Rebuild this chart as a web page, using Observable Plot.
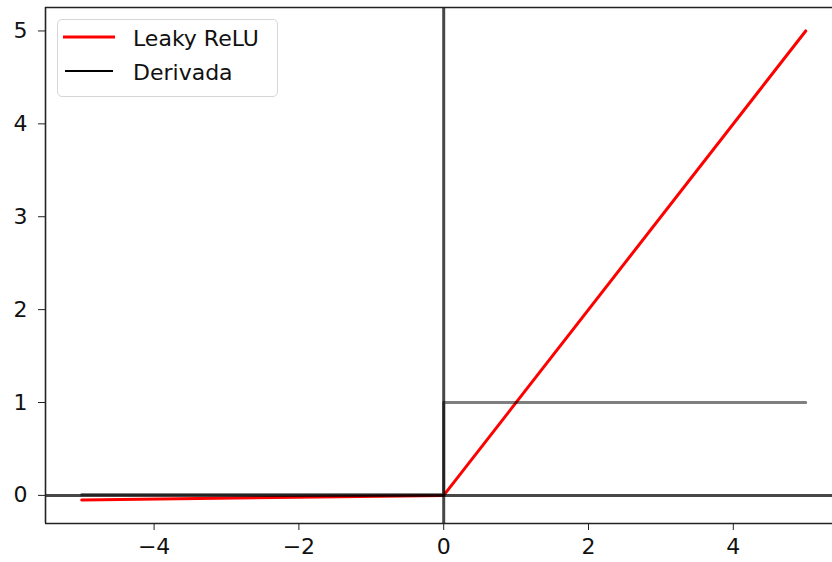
<!DOCTYPE html>
<html>
<head>
<meta charset="utf-8">
<script src="https://cdn.jsdelivr.net/npm/d3@7"></script>
<script src="https://cdn.jsdelivr.net/npm/@observablehq/plot@0.6"></script>
<style>
  html, body { margin: 0; padding: 0; background: white; overflow: hidden; }
  #wrap { position: relative; width: 832px; height: 562px; font-family: "DejaVu Sans", sans-serif; }
  #legend {
    position: absolute; left: 57px; top: 19px; width: 219px; height: 76px;
    border: 1.5px solid #d6d6d6; border-radius: 5px; background: rgba(255,255,255,0.85);
    box-sizing: content-box;
  }
  #legend .row { position: absolute; left: 0; height: 30px; display: flex; align-items: center; }
  #legend .row span { font-size: 22px; color: #111; margin-left: 15px; line-height: 1; position: relative; top: 2px; }
</style>
</head>
<body>
<div id="wrap"></div>
<script>
// Data
const seriesNames = ["Leaky ReLU", "Derivada"];
const reluX = [-5, 0, 5];
const reluY = [-0.05, 0, 5];
const derivX = [-5, 0, 0, 5];
const derivY = [0.01, 0.01, 1, 1];
const xTicks = [-4, -2, 0, 2, 4];
const yTicks = [0, 1, 2, 3, 4, 5];
const xDomain = [-5.5, 5.37];
const yDomain = [-0.3025, 5.2525];

const relu = reluX.map((x, i) => ({x, y: reluY[i]}));
const deriv = derivX.map((x, i) => ({x, y: derivY[i]}));
const fmt = d => d < 0 ? "\u2212" + Math.abs(d) : String(d);

const chart = Plot.plot({
  width: 832,
  height: 562,
  marginLeft: 45,
  marginRight: 0,
  marginTop: 7,
  marginBottom: 39,
  style: {fontFamily: "DejaVu Sans, sans-serif", fontSize: "22px", color: "#111", background: "white"},
  x: {domain: xDomain},
  y: {domain: yDomain},
  marks: [
    Plot.line(relu, {x: "x", y: "y", stroke: "#ff0000", strokeWidth: 3}),
    Plot.line(deriv, {x: "x", y: "y", stroke: "black", strokeOpacity: 0.5, strokeWidth: 3}),
    Plot.ruleY([0], {stroke: "black", strokeOpacity: 0.72, strokeWidth: 3}),
    Plot.ruleX([0], {stroke: "black", strokeOpacity: 0.72, strokeWidth: 3}),
    Plot.ruleX([xDomain[0]], {stroke: "#222", strokeWidth: 1.6}),
    Plot.ruleY([yDomain[0]], {stroke: "#222", strokeWidth: 1.6}),
    Plot.ruleY([yDomain[1]], {stroke: "#222", strokeWidth: 1.6}),
    Plot.axisX({ticks: xTicks, tickFormat: fmt, tickSize: 7, tickPadding: 8, label: null, stroke: "#222"}),
    Plot.axisY({ticks: yTicks, tickFormat: fmt, tickSize: 7, tickPadding: 11, label: null, stroke: "#222"})
  ]
});

const wrap = document.getElementById("wrap");
wrap.appendChild(chart);

const legend = document.createElement("div");
legend.id = "legend";
const swatches = [
  {color: "#ff0000", width: 3, len: 52, off: 5},
  {color: "#000000", width: 2, len: 48, off: 7}
];
seriesNames.forEach((name, i) => {
  const row = document.createElement("div");
  row.className = "row";
  row.style.top = (2 + i * 34) + "px";
  const s = swatches[i];
  const svg = document.createElementNS("http://www.w3.org/2000/svg", "svg");
  svg.setAttribute("width", 60);
  svg.setAttribute("height", 30);
  svg.style.display = "block";
  const ln = document.createElementNS("http://www.w3.org/2000/svg", "line");
  ln.setAttribute("x1", s.off); ln.setAttribute("x2", s.off + s.len);
  ln.setAttribute("y1", 15); ln.setAttribute("y2", 15);
  ln.setAttribute("stroke", s.color); ln.setAttribute("stroke-width", s.width);
  svg.appendChild(ln);
  row.appendChild(svg);
  const t = document.createElement("span");
  t.textContent = name;
  row.appendChild(t);
  legend.appendChild(row);
});
wrap.appendChild(legend);
</script>
</body>
</html>
